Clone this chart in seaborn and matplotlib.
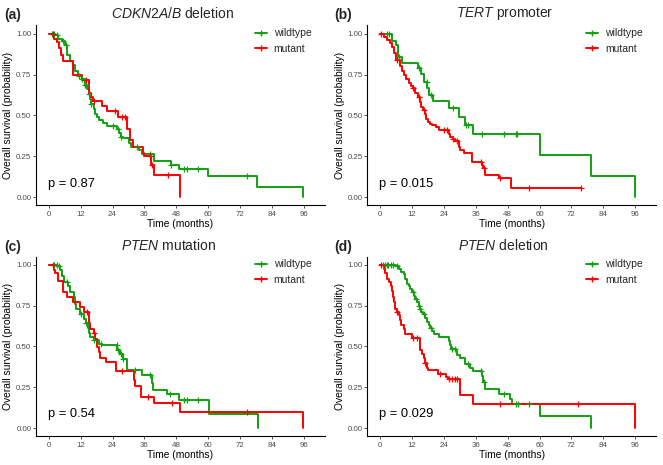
import numpy as np
import pandas as pd
import matplotlib
matplotlib.use("Agg")
import matplotlib.pyplot as plt
from matplotlib.lines import Line2D
import seaborn as sns

# ---------------- data ----------------
GROUPS = ["wildtype", "mutant"]
COLORS = {"wildtype": "#12A012", "mutant": "#FF0000"}
X_TICKS = [0, 12, 24, 36, 48, 60, 72, 84, 96]
Y_TICKS = [0.0, 0.25, 0.50, 0.75, 1.0]
TITLES_IT = ["CDKN2A/B", "TERT", "PTEN", "PTEN"]
TITLES_RM = ["deletion", "promoter", "mutation", "deletion"]
TAGS = ["(a)", "(b)", "(c)", "(d)"]
PVALUES = ["p = 0.87", "p = 0.015", "p = 0.54", "p = 0.029"]

# (a) CDKN2A/B deletion
a_wt_t = [0, 2.5, 3.5, 5, 6, 7, 8, 9, 10, 11, 12.5, 13.5, 14.5, 15, 15.5, 16, 17, 17.5, 18, 19,
          20.5, 22, 25.5, 26.5, 27, 28, 30, 31, 34, 35, 39.5, 46, 49, 60, 78.5, 95.5]
a_wt_s = [1.0, 0.99, 0.97, 0.955, 0.93, 0.87, 0.83, 0.81, 0.77, 0.74, 0.72, 0.685, 0.66, 0.63, 0.60,
          0.57, 0.54, 0.51, 0.49, 0.47, 0.455, 0.435, 0.415, 0.395, 0.37, 0.36, 0.33, 0.31, 0.29,
          0.265, 0.22, 0.20, 0.175, 0.13, 0.065, 0.0]
a_wt_c = [1, 2, 3, 5.5, 6.5, 11.5, 12.5, 13.5, 14, 15, 16, 24, 26, 27, 33, 38, 46, 51, 52, 56, 74.5]
a_mu_t = [0, 2, 3, 4, 4.5, 5.5, 9, 12.5, 15, 16, 16.5, 20, 22, 26, 29.5, 30.5, 31.5, 35.5, 36,
          38.5, 39.5, 49.5]
a_mu_s = [1.0, 0.97, 0.95, 0.91, 0.87, 0.83, 0.745, 0.715, 0.64, 0.615, 0.59, 0.555, 0.525, 0.49,
          0.42, 0.35, 0.31, 0.27, 0.255, 0.20, 0.135, 0.0]
a_mu_c = [1.5, 14, 17, 25, 27.5, 28.5, 38, 39, 45]

# (b) TERT promoter
b_wt_t = [0, 4.5, 5.8, 6.8, 8.3, 14.1, 15.4, 16.4, 17.6, 18.5, 19.9, 25.8, 29.5, 32, 34.9, 60.2,
          79.2, 95.9]
b_wt_s = [1.0, 0.955, 0.93, 0.86, 0.823, 0.79, 0.754, 0.707, 0.67, 0.625, 0.589, 0.544, 0.49,
          0.442, 0.387, 0.259, 0.13, 0.0]
b_wt_c = [2.5, 3.5, 7, 14.5, 17.5, 19, 27.5, 32.5, 33, 38.5, 46.5, 51, 51.5]
b_mu_t = [0, 1.4, 2.6, 3.6, 4.5, 5.1, 5.8, 7.3, 8.3, 9.1, 9.9, 10.8, 11.6, 12.4, 13.3, 14.1, 14.9,
          15.4, 16.1, 16.8, 17.4, 18, 18.6, 19.5, 21.2, 22, 25.8, 26.4, 27.4, 28.3, 29.5, 30.2,
          31.4, 34.5, 38.3, 38.9, 39.3, 44.6, 49.3, 75.5]
b_mu_s = [1.0, 0.98, 0.96, 0.94, 0.92, 0.88, 0.84, 0.80, 0.77, 0.745, 0.72, 0.70, 0.68, 0.665,
          0.64, 0.615, 0.58, 0.55, 0.535, 0.51, 0.48, 0.46, 0.45, 0.44, 0.428, 0.41, 0.385, 0.37,
          0.355, 0.345, 0.31, 0.29, 0.27, 0.218, 0.20, 0.18, 0.136, 0.115, 0.055, 0.055]
b_mu_c = [0.5, 6.5, 12.5, 14.5, 16.5, 24, 25, 27.5, 29, 38, 39, 45, 56, 75.5]

# (c) PTEN mutation
c_wt_t = [0, 3.1, 4.1, 5, 5.6, 7.3, 7.8, 9.4, 9.9, 10.4, 11.9, 13.1, 13.8, 14.6, 15, 15.6, 16.9,
          18.8, 20, 25.7, 26.9, 27.9, 29.4, 35, 38.8, 39.2, 44.4, 49, 60.3, 78.8]
c_wt_s = [1.0, 0.99, 0.97, 0.93, 0.894, 0.87, 0.83, 0.80, 0.76, 0.73, 0.70, 0.67, 0.64, 0.61,
          0.58, 0.56, 0.54, 0.516, 0.506, 0.48, 0.455, 0.425, 0.353, 0.327, 0.275, 0.235, 0.21,
          0.17, 0.084, 0.0]
c_wt_c = [2, 3, 4, 7, 12, 14, 17, 19.5, 25.5, 26, 27, 28, 32.5, 38, 45.5, 51, 52, 56]
c_mu_t = [0, 1.9, 2.5, 3.4, 5.3, 6.9, 9.1, 11.9, 13.1, 15, 15.6, 16.9, 17.5, 18.1, 19, 19.4, 21.7,
          25.4, 31.9, 32.5, 34.7, 39.4, 49.4, 95.7]
c_mu_s = [1.0, 0.97, 0.95, 0.90, 0.83, 0.80, 0.77, 0.74, 0.71, 0.64, 0.608, 0.58, 0.547, 0.496,
          0.465, 0.43, 0.404, 0.347, 0.292, 0.257, 0.19, 0.153, 0.10, 0.0]
c_mu_c = [1.5, 14.5, 17, 27.5, 37.5, 46.5, 74.5]

# (d) PTEN deletion
d_wt_t = [0, 6, 7, 7.9, 8.9, 9.5, 10.1, 11, 11.4, 12, 12.6, 13.3, 13.9, 14.5, 14.9, 15.4, 16.1,
          16.8, 17.6, 18.3, 18.9, 19.5, 20.4, 22, 25.8, 26.2, 26.7, 28.7, 28.9, 29.9, 31.8, 33.9,
          34.9, 38.3, 38.9, 39.3, 44.6, 48.7, 49.6, 60.2, 79.4]
d_wt_s = [1.0, 0.99, 0.975, 0.955, 0.94, 0.914, 0.884, 0.87, 0.853, 0.83, 0.81, 0.79, 0.77, 0.75,
          0.73, 0.71, 0.70, 0.673, 0.65, 0.63, 0.61, 0.595, 0.578, 0.555, 0.53, 0.51, 0.486, 0.47,
          0.445, 0.43, 0.394, 0.37, 0.347, 0.32, 0.28, 0.24, 0.21, 0.18, 0.149, 0.0755, 0.0]
d_wt_c = [1, 2, 2.5, 3, 4, 5, 6.5, 12.5, 13.5, 14.5, 15, 16.5, 19, 27, 28, 33, 38, 39, 46.5, 51,
          52, 56]
d_mu_t = [0, 1.4, 2, 2.6, 3.5, 3.9, 4.5, 4.9, 5.1, 5.5, 6.4, 7, 7.4, 8, 8.9, 9.5, 12, 14.9, 15.1,
          15.8, 16.4, 16.8, 17.6, 17.9, 21.7, 24.9, 25.4, 29.9, 34.9, 95.9]
d_mu_s = [1.0, 0.975, 0.95, 0.914, 0.894, 0.87, 0.837, 0.80, 0.77, 0.73, 0.71, 0.69, 0.66, 0.633,
          0.608, 0.573, 0.553, 0.52, 0.475, 0.455, 0.43, 0.40, 0.37, 0.353, 0.333, 0.31, 0.30,
          0.20, 0.149, 0.0]
d_mu_c = [0.5, 6.5, 12.5, 14, 17, 22.5, 26, 27, 28, 29, 45, 74.5]

CURVES = [
    ((a_wt_t, a_wt_s, a_wt_c), (a_mu_t, a_mu_s, a_mu_c)),
    ((b_wt_t, b_wt_s, b_wt_c), (b_mu_t, b_mu_s, b_mu_c)),
    ((c_wt_t, c_wt_s, c_wt_c), (c_mu_t, c_mu_s, c_mu_c)),
    ((d_wt_t, d_wt_s, d_wt_c), (d_mu_t, d_mu_s, d_mu_c)),
]

# ---------------- style ----------------
sns.set_theme(style="ticks")
plt.rcParams["font.family"] = ["Liberation Sans", "DejaVu Sans"]
plt.rcParams["mathtext.fontset"] = "custom"
plt.rcParams["mathtext.it"] = "Liberation Sans:italic"
plt.rcParams["mathtext.rm"] = "Liberation Sans"

W, H = 663, 465
fig = plt.figure(figsize=(W / 100, H / 100), dpi=100, facecolor="white")

# layout in pixels: (left, top, right, bottom) of each axes
RECTS = [(35.7, 25.5, 325.0, 205.5), (367.0, 25.5, 656.3, 205.5),
         (35.7, 256.5, 325.0, 436.2), (367.0, 256.5, 656.3, 436.2)]
TITLE_POS = [(172.7, 13.5), (504.8, 13.5), (169.0, 245.5), (503.7, 245.5)]
TAG_POS = [(4.0, 15.0), (334.3, 15.0), (4.0, 246.5), (334.3, 246.5)]


def step_lookup(t, s, c):
    idx = np.searchsorted(np.asarray(t), np.asarray(c), side="right") - 1
    return np.asarray(s)[idx]


for i, (rect, curves) in enumerate(zip(RECTS, CURVES)):
    l, t_, r, b = rect
    ax = fig.add_axes([l / W, 1 - b / H, (r - l) / W, (b - t_) / H])
    frames, cframes = [], []
    for grp, (tt, ss, cc) in zip(GROUPS, curves):
        frames.append(pd.DataFrame({"time": tt, "surv": ss, "group": grp}))
        cframes.append(pd.DataFrame({"time": cc, "surv": step_lookup(tt, ss, cc), "group": grp}))
    df = pd.concat(frames, ignore_index=True)
    cdf = pd.concat(cframes, ignore_index=True)
    for grp in GROUPS:
        sns.lineplot(data=df[df.group == grp], x="time", y="surv", color=COLORS[grp],
                     estimator=None, sort=False, drawstyle="steps-post", linewidth=1.4,
                     legend=False, ax=ax, zorder=2)
        sns.scatterplot(data=cdf[cdf.group == grp], x="time", y="surv", color=COLORS[grp],
                        marker="+", s=22, linewidth=0.9, legend=False, ax=ax, zorder=3)

    ax.set_xlim(-4.95, 103.95)
    ax.set_ylim(-0.05, 1.05)
    ax.set_xticks(X_TICKS)
    ax.set_xticklabels([str(x) for x in X_TICKS])
    ax.set_yticks(Y_TICKS)
    ax.set_yticklabels([f"{y:.2f}" for y in Y_TICKS])
    ax.tick_params(axis="both", labelsize=5.7, labelcolor="#4D4D4D", color="#333333",
                   length=2.2, width=0.6)
    ax.tick_params(axis="x", pad=1.8)
    ax.tick_params(axis="y", pad=1.0)
    for sp in ["top", "right"]:
        ax.spines[sp].set_visible(False)
    for sp in ["left", "bottom"]:
        ax.spines[sp].set_linewidth(0.8)
        ax.spines[sp].set_color("black")
    ax.set_facecolor("white")

    ax.set_xlabel("Time (months)", fontsize=7.4, color="black")
    ax.set_ylabel("Overall survival (probability)", fontsize=7.4, color="black")
    ax.xaxis.set_label_coords(0.5, -0.105)
    ax.xaxis.label.set_va("center")
    ax.yaxis.set_label_coords(-0.095, 0.5)
    ax.yaxis.label.set_va("center")

    ax.text(-0.3, 0.065, PVALUES[i], fontsize=9.3, ha="left", va="baseline", color="black")

    handles = [Line2D([0], [0], color=COLORS[g], lw=1.4, marker="+", markersize=5,
                      markeredgewidth=1.0) for g in GROUPS]
    ax.legend(handles, GROUPS, loc="upper left", bbox_to_anchor=(0.758, 0.985), frameon=False,
              fontsize=7.5, handlelength=1.15, handletextpad=0.65, labelspacing=0.55,
              borderpad=0, borderaxespad=0)

    tx, ty = TITLE_POS[i]
    fig.text(tx / W, 1 - ty / H, rf"$\mathit{{{TITLES_IT[i]}}}$ {TITLES_RM[i]}", fontsize=10,
             ha="center", va="center")
    gx, gy = TAG_POS[i]
    fig.text(gx / W, 1 - gy / H, TAGS[i], fontsize=10, fontweight="bold", ha="left",
             va="center")

fig.savefig("out.png", dpi=100, facecolor="white")
